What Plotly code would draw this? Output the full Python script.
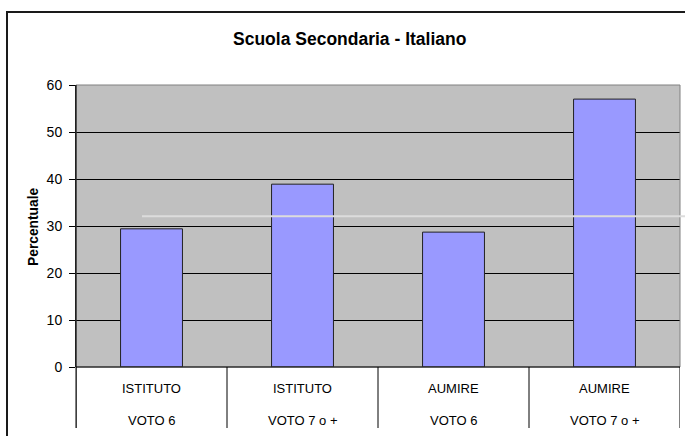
import plotly.graph_objects as go

categories_top = ["ISTITUTO", "ISTITUTO", "AUMIRE", "AUMIRE"]
categories_bottom = ["VOTO 6", "VOTO 7 o +", "VOTO 6", "VOTO 7 o +"]
values = [29.4, 38.9, 28.7, 57.0]
y_ticks = [0, 10, 20, 30, 40, 50, 60]

W, H = 685, 436
L, R, T, B = 76, 5, 85, 69
pw = W - L - R
ph = H - T - B

def px_x(p):
    return (p - L) / pw

def px_y(p):
    return (H - B - p) / ph

x_idx = list(range(len(values)))

fig = go.Figure()
fig.add_trace(go.Bar(
    x=x_idx, y=values, width=0.41,
    marker=dict(color="#9999FF", line=dict(color="#222222", width=1)),
    hoverinfo="y",
))

font_family = "Liberation Sans, Arial, sans-serif"

fig.update_layout(
    width=W, height=H,
    margin=dict(l=L, r=R, t=T, b=B),
    paper_bgcolor="white",
    plot_bgcolor="#C0C0C0",
    showlegend=False,
    font=dict(family=font_family, size=13, color="black"),
    xaxis=dict(
        range=[-0.5, len(values) - 0.5],
        showticklabels=False, showgrid=False, zeroline=False,
        showline=False, ticks="",
        fixedrange=True,
    ),
    yaxis=dict(
        range=[0, 60], tickvals=y_ticks, ticktext=[str(v) for v in y_ticks],
        showgrid=True, gridcolor="black", gridwidth=1,
        zeroline=False,
        showline=True, linecolor="black", linewidth=1,
        ticks="outside", ticklen=6, tickcolor="black",
        tickfont=dict(size=14),
        ticklabelstandoff=4,
    ),
    bargap=0.59,
)

shapes = []
# plot area border (grey)
shapes.append(dict(type="rect", xref="paper", yref="paper", x0=0, x1=1, y0=0, y1=1,
                   line=dict(color="#808080", width=1), layer="above"))
# left axis line + bottom axis
shapes.append(dict(type="line", xref="paper", yref="paper", x0=0, x1=0, y0=px_y(428), y1=1,
                   line=dict(color="black", width=1), layer="above"))
shapes.append(dict(type="line", xref="paper", yref="paper", x0=0, x1=1, y0=0, y1=0,
                   line=dict(color="black", width=1), layer="above"))
# category dividers
for i in range(len(values) + 1):
    shapes.append(dict(type="line", xref="x", yref="paper", x0=i - 0.5, x1=i - 0.5,
                       y0=px_y(428), y1=0, line=dict(color="black", width=1)))
# faint horizontal line
shapes.append(dict(type="line", xref="paper", yref="y", x0=px_x(142), x1=px_x(690),
                   y0=32.1, y1=32.1, line=dict(color="#DCDCDC", width=2), layer="above"))
# outer chart frame
shapes.append(dict(type="rect", xref="paper", yref="paper", x0=px_x(7), x1=px_x(700),
                   y0=px_y(450), y1=px_y(12), line=dict(color="#1a1a1a", width=2)))
fig.update_layout(shapes=shapes)

annotations = []
annotations.append(dict(text="<b>Scuola Secondaria - Italiano</b>", xref="paper", yref="paper",
                        x=px_x(349), y=px_y(39), showarrow=False,
                        font=dict(size=17.5, family=font_family), xanchor="center", yanchor="middle"))
annotations.append(dict(text="<b>Percentuale</b>", xref="paper", yref="paper",
                        x=px_x(33), y=px_y(227), showarrow=False, textangle=-90,
                        font=dict(size=13.8, family=font_family), xanchor="center", yanchor="middle"))
for i, (top, bot) in enumerate(zip(categories_top, categories_bottom)):
    annotations.append(dict(text=top, xref="x", yref="paper", x=i, y=px_y(388),
                            showarrow=False, font=dict(size=13), xanchor="center", yanchor="middle"))
    annotations.append(dict(text=bot, xref="x", yref="paper", x=i, y=px_y(420),
                            showarrow=False, font=dict(size=13), xanchor="center", yanchor="middle"))
fig.update_layout(annotations=annotations)

fig.write_html("out.html", config={"displayModeBar": False},
               post_script="document.body.style.margin='0px';")
